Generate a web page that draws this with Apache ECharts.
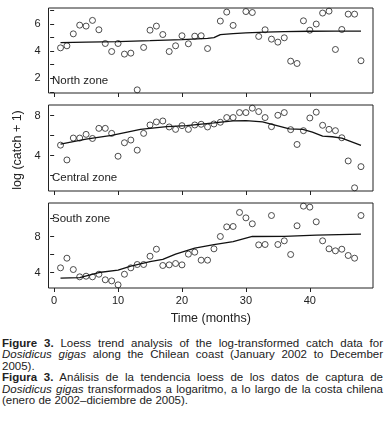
<!DOCTYPE html>
<html>
<head>
<meta charset="utf-8">
<script src="https://cdn.jsdelivr.net/npm/echarts@6/dist/echarts.min.js"></script>
<style>
  body { margin: 0; background: #fff; }
  #chart { position: absolute; left: 0; top: 0; width: 384px; height: 335px; }
  #cap {
    position: absolute; left: 2px; top: 338px; width: 381px;
    font-family: 'Liberation Sans Narrow', 'Liberation Sans', Arial, sans-serif;
    font-size: 11.5px; line-height: 11.4px; color: #222; text-align: justify;
  }
  #cap p { margin: 0; }
</style>
</head>
<body>
<div id="chart"></div>
<div id="cap">
  <p><b>Figure 3.</b> Loess trend analysis of the log-transformed catch data for <i>Dosidicus gigas</i> along the Chilean coast (January 2002 to December 2005).</p>
  <p><b>Figura 3.</b> Análisis de la tendencia loess de los datos de captura de <i>Dosidicus gigas</i> transformados a logaritmo, a lo largo de la costa chilena (enero de 2002–diciembre de 2005).</p>
</div>
<script>
// monthly observations (month index, log(catch+1))
var northMonths = [1,2,3,4,5,6,7,8,9,10,11,12,13,14,15,16,17,18,19,20,21,22,23,24,26,27,28,30,31,32,33,34,35,36,37,38,39,40,41,42,43,44,45,46,47,48];
var north = [4.23,4.38,5.26,5.9,5.83,6.25,5.56,4.55,3.96,4.55,3.77,3.84,1.14,4.26,5.53,5.83,5.21,3.96,4.38,5.12,4.53,5.09,5.12,4.18,6.2,6.86,5.88,6.9,6.83,5.07,5.56,4.87,4.65,4.97,3.25,3.08,6.22,5.53,5.98,6.79,6.93,4.11,5.58,6.71,6.71,3.28];

var months = [1,2,3,4,5,6,7,8,9,10,11,12,13,14,15,16,17,18,19,20,21,22,23,24,25,26,27,28,29,30,31,32,33,34,35,36,37,38,39,40,41,42,43,44,45,46,47,48];
var central = [5.04,3.56,5.75,5.75,6.12,5.71,6.72,6.72,6.22,3.93,5.28,5.55,4.54,6.22,7.06,7.36,7.46,6.86,6.62,6.99,6.62,7.06,7.13,6.86,7.16,7.33,7.8,7.8,8.3,8.3,8.74,8.4,7.8,6.89,8.03,8.3,6.59,5.11,6.49,7.76,8.34,7.03,6.62,6.49,5.78,3.46,0.77,2.89];
var south = [4.52,5.59,4.33,3.52,3.59,3.52,3.81,3.19,3.07,2.63,3.81,4.52,4.89,4.89,5.81,6.59,4.78,4.85,5.0,4.85,6.04,6.26,5.37,5.37,6.63,8.0,9.07,9.11,10.67,10.07,9.41,7.07,7.11,10.33,7.11,7.52,6.0,9.19,11.37,11.26,9.63,7.52,6.63,6.41,6.59,5.89,5.59,10.33];

// loess trend lines
var northFitMonths = [1,5,10,15,20,24,25,26,28,30,33,36,40,44,48];
var northFit = [4.62,4.65,4.69,4.76,4.84,4.93,4.98,5.2,5.27,5.33,5.38,5.42,5.45,5.46,5.46];
var centralFitMonths = [1,5,9,13.5,17.6,20.7,25,28,30,32.6,34.7,36.8,38.9,40.4,42,43.5,45,48];
var centralFit = [5.14,5.65,6.02,6.62,6.89,6.99,7.26,7.46,7.5,7.36,7.03,6.66,6.62,6.35,5.95,5.88,5.75,5.01];
var southFitMonths = [1,4,7,10,12,15,17,19,22,25,28,31,36,41,48];
var southFit = [3.37,3.44,4.0,4.26,4.7,5.2,5.45,6.05,6.7,7.1,7.44,8.0,8.02,8.15,8.26];

var xTicks = [0,10,20,30,40];
var northTicks = [1,2,3,4,5,6,7], northLabels = [2,4,6];
var centralTicks = [2,4,6,8], centralLabels = [4,8];
var southTicks = [4,6,8,10], southLabels = [4,8];

var FONT = "'Liberation Sans Narrow', 'Liberation Sans', Arial, sans-serif";
var INK = '#222';

function pairs(xs, ys) { return xs.map(function (x, i) { return [x, ys[i]]; }); }
// R style 4% axis padding
function lim(v) {
  var lo = Math.min.apply(null, v), hi = Math.max.apply(null, v), d = (hi - lo) * 0.04;
  return [lo - d, hi + d];
}

var xl = lim(months);
var grids = [
  { top: 8, height: 85 },
  { top: 105, height: 86 },
  { top: 203, height: 85 }
].map(function (g) {
  return { left: 48.5, right: 11, top: g.top, height: g.height, show: true,
           borderColor: INK, borderWidth: 1, backgroundColor: 'transparent' };
});

function xAxis(i, labels) {
  return {
    gridIndex: i, type: 'value', min: xl[0], max: xl[1],
    axisLine: { show: false },
    splitLine: { show: false },
    axisTick: { show: true, inside: false, length: 4, customValues: xTicks, lineStyle: { color: INK } },
    axisLabel: { show: labels, customValues: xTicks, margin: 7, color: INK, fontSize: 11, fontFamily: FONT },
    name: labels ? 'Time (months)' : '', nameLocation: 'middle', nameGap: 24,
    nameTextStyle: { color: INK, fontSize: 12.5, fontFamily: FONT }
  };
}
function yAxis(i, data, ticks, labels) {
  var l = lim(data);
  return {
    gridIndex: i, type: 'value', min: l[0], max: l[1],
    axisLine: { show: false },
    splitLine: { show: false },
    axisTick: { show: true, inside: false, length: 4, customValues: ticks, lineStyle: { color: INK } },
    axisLabel: { customValues: labels, margin: 8, color: INK, fontSize: 11, fontFamily: FONT }
  };
}
function pts(i, xs, ys) {
  return { type: 'scatter', xAxisIndex: i, yAxisIndex: i, data: pairs(xs, ys),
           symbol: 'circle', symbolSize: 6, silent: true,
           itemStyle: { color: 'rgba(0,0,0,0)', borderColor: INK, borderWidth: 1 } };
}
function fit(i, xs, ys) {
  return { type: 'line', xAxisIndex: i, yAxisIndex: i, data: pairs(xs, ys),
           showSymbol: false, silent: true, lineStyle: { color: '#111', width: 1.3 } };
}
function zoneLabel(text, y) {
  return { type: 'text', left: 52, top: y, style: { text: text, fill: INK, fontSize: 11.5, fontFamily: FONT } };
}

var chart = echarts.init(document.getElementById('chart'), null, { renderer: 'canvas' });
chart.setOption({
  animation: false,
  grid: grids,
  xAxis: [xAxis(0, false), xAxis(1, false), xAxis(2, true)],
  yAxis: [
    yAxis(0, north, northTicks, northLabels),
    yAxis(1, central, centralTicks, centralLabels),
    yAxis(2, south, southTicks, southLabels)
  ],
  series: [
    pts(0, northMonths, north), fit(0, northFitMonths, northFit),
    pts(1, months, central), fit(1, centralFitMonths, centralFit),
    pts(2, months, south), fit(2, southFitMonths, southFit)
  ],
  graphic: [
    zoneLabel('North zone', 75),
    zoneLabel('Central zone', 172),
    zoneLabel('South zone', 213),
    { type: 'text', x: 18, y: 150, rotation: Math.PI / 2,
      style: { text: 'log (catch + 1)', fill: INK, fontSize: 12.5, fontFamily: FONT,
               align: 'center', verticalAlign: 'middle' } }
  ]
});
</script>
</body>
</html>
